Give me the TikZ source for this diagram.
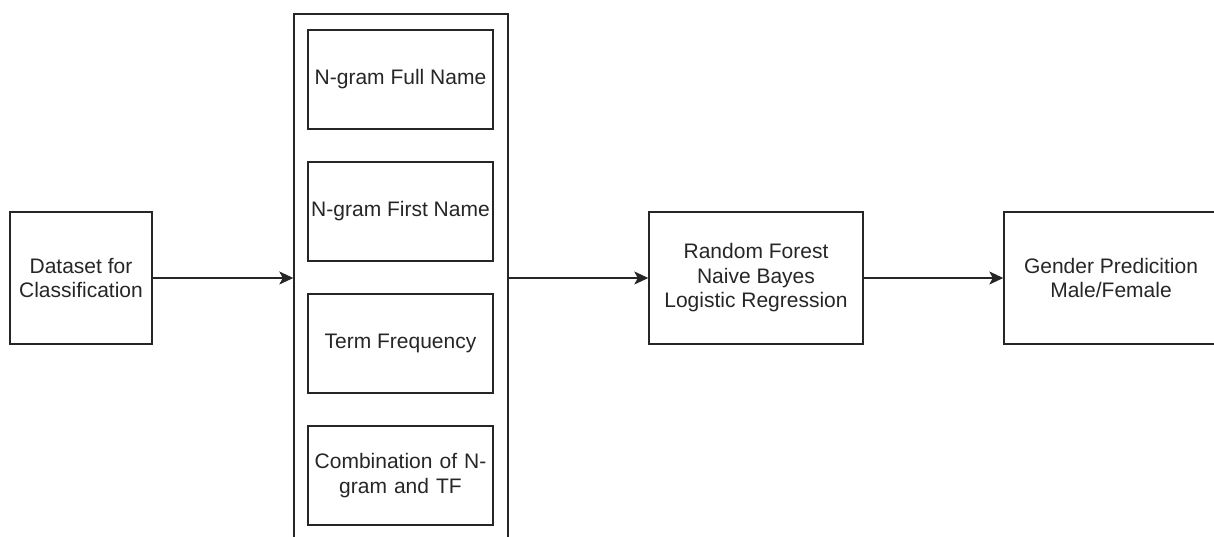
\documentclass[tikz,border=0pt]{standalone}
\usepackage{fontspec}
\setmainfont{Liberation Sans}
\usetikzlibrary{arrows.meta}
\begin{document}
\begin{tikzpicture}[x=1pt,y=-1pt,
  box/.style={draw=black!85, line width=1.4pt, rectangle, inner sep=2pt, align=center,
    font=\fontsize{21}{24.5}\selectfont, text=black!85},
  conn/.style={draw=black!85, line width=1.4pt, -{Stealth[length=14pt,width=13pt,inset=3.5pt]}}]
\useasboundingbox (0,0) rectangle (1214,537);
\clip (0,0) rectangle (1214,537);
\node[box, minimum width=142pt, minimum height=132pt] (data) at (81,278) {Dataset for\\Classification};
\node[box, minimum width=214pt, minimum height=528pt] (col) at (401,278) {};
\node[box, minimum width=185pt, minimum height=99pt] (f1) at (400.5,79.5) {N-gram Full Name};
\node[box, minimum width=185pt, minimum height=99pt] (f2) at (400.5,211.5) {N-gram First Name};
\node[box, minimum width=185pt, minimum height=99pt] (f3) at (400.5,343.5) {Term Frequency};
\node[box, minimum width=185pt, minimum height=99pt, text width=175pt] (f4) at (400.5,475.5) {Combination of N-\\gram and TF};
\node[box, minimum width=214pt, minimum height=132pt] (rf) at (756,278) {Random Forest\\Naive Bayes\\Logistic Regression};
\node[box, minimum width=214pt, minimum height=132pt] (gp) at (1111,278) {Gender Predicition\\Male/Female};
\draw[conn] (data.east) -- (col.west);
\draw[conn] (col.east) -- (rf.west);
\draw[conn] (rf.east) -- (gp.west);
\end{tikzpicture}
\end{document}
